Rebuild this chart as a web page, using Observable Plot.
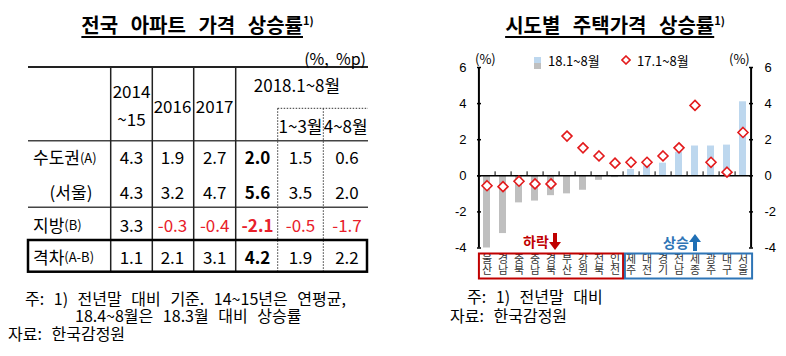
<!DOCTYPE html>
<html><head><meta charset="utf-8">
<script src="https://cdn.jsdelivr.net/npm/d3@7"></script>
<script src="https://cdn.jsdelivr.net/npm/@observablehq/plot@0.6"></script>
<style>
body{margin:0;background:#fff;font-family:"Noto Sans CJK KR","Noto Sans",sans-serif;color:#000}
#root{position:relative;width:786px;height:356px;overflow:hidden}
.abs{position:absolute;white-space:nowrap}
.title{font-size:20px;font-weight:bold;word-spacing:8px;line-height:24px;text-align:center}
.title .u{text-decoration:underline;text-underline-offset:3px;text-decoration-thickness:1.5px}
.title sup{font-size:11px;vertical-align:8px;word-spacing:0;line-height:0}
.note{font-size:16px;line-height:20px;word-spacing:6px}
.leg{font-size:13px;line-height:16px}
.tag{font-size:14px;font-weight:bold;line-height:18px}
.abs svg.blk{display:block}
</style></head>
<body><div id="root"></div>
<script>
// ---------- data ----------
const tableRows = ["수도권", "(서울)", "지방", "격차"];
const rowTags = ["(A)", "", "(B)", "(A-B)"];
const metro = [4.3, 1.9, 2.7, 2.0, 1.5, 0.6];
const seoul = [4.3, 3.2, 4.7, 5.6, 3.5, 2.0];
const provinces = [3.3, -0.3, -0.4, -2.1, -0.5, -1.7];
const gap = [1.1, 2.1, 3.1, 4.2, 1.9, 2.2];

const regions = ["울산","경남","충북","충남","경북","부산","강원","전북","인천","제주","대전","경기","전남","세종","광주","대구","서울"];
const rate2018 = [-4.0, -3.2, -1.5, -1.4, -1.1, -1.0, -0.8, -0.25, -0.1, 0.35, 0.55, 0.7, 1.3, 1.65, 1.65, 1.7, 4.1];
const rate2017 = [-0.55, -0.6, -0.3, -0.45, -0.45, 2.2, 1.55, 1.1, 0.7, 0.75, 0.75, 1.1, 1.55, 3.9, 0.75, 0.2, 2.4];
const yTicks = [-4, -2, 0, 2, 4, 6];

const root = d3.select("#root");
function html(left, top, cls, content, extra) {
  const d = root.append("div").attr("class", "abs " + cls).html(content);
  d.attr("style", `left:${left}px;top:${top}px;` + (extra || ""));
  return d;
}

// ---------- left table ----------
const tsvg = root.append("svg").attr("width", 440).attr("height", 356)
  .style("position", "absolute").style("left", "0px").style("top", "0px")
  .style("font-family", '"Noto Sans CJK KR", "Noto Sans", sans-serif');
const L = 28, R = 368;
const colEdges = [110.7, 152.3, 193.7, 235.7, 277.7, 323.3];
const colCenters = [131.5, 172.5, 214.7, 257.5, 300.5, 347];
const yTop = 67, yDot = 108.3, yHead = 140.7, ySeoul = 207.3, yBoxTop = 240, yBottom = 271.7;
const rowY = [156.7, 191.5, 224, 256];
function line(x1, y1, x2, y2, w, c, dash) {
  const l = tsvg.append("line").attr("x1", x1).attr("y1", y1).attr("x2", x2).attr("y2", y2)
    .attr("stroke", c).attr("stroke-width", w);
  if (dash) l.attr("stroke-dasharray", dash);
}
line(L, yTop, R, yTop, 2, "#222");
line(L, yHead, R, yHead, 1.5, "#444");
line(L, ySeoul, R, ySeoul, 1.5, "#444");
colEdges.slice(0, 4).forEach(x => line(x, yTop, x, yBottom, 1.5, "#222"));
colEdges.slice(4).forEach(x => line(x, yDot, x, yBottom, 1, "#333", "1.5,1.5"));
line(colEdges[4], yDot, R, yDot, 1, "#333", "1.5,1.5");
tsvg.append("rect").attr("x", L).attr("y", yBoxTop).attr("width", R - L - 1).attr("height", yBottom - yBoxTop)
  .attr("fill", "none").attr("stroke", "#000").attr("stroke-width", 2.5);

function ttext(x, y, s, opts = {}) {
  return tsvg.append("text").attr("x", x).attr("y", y).attr("dominant-baseline", "central")
    .attr("text-anchor", opts.anchor || "middle").attr("font-size", opts.size || 17)
    .attr("font-weight", opts.bold ? "bold" : null).attr("fill", opts.fill || "#000")
    .text(s);
}
ttext(colCenters[0], 90, "2014");
ttext(colCenters[0], 118, "~15");
ttext(colCenters[1], 105, "2016");
ttext(colCenters[2], 105, "2017");
ttext(297, 84, "2018.1~8월");
ttext(300.5, 125.7, "1~3월");
ttext(345.7, 125.7, "4~8월");
ttext(R - 2, 58, "(%,\u00a0\u00a0%p)", {anchor: "end", size: 16});

const tableValues = [metro, seoul, provinces, gap];
tableRows.forEach((name, i) => {
  let t;
  if (rowTags[i]) {
    t = ttext(33, rowY[i], name, {anchor: "start"});
    t.append("tspan").attr("font-size", 13).text(rowTags[i]);
  } else {
    t = ttext(71, rowY[i], name);
  }
  tableValues[i].forEach((v, j) => {
    ttext(colCenters[j], rowY[i], v.toFixed(1), {bold: j === 3, fill: v < 0 ? "#e8202a" : "#000"});
  });
});

// titles
html(40, 13, "title", '<span class="u">전국 아파트 가격 상승률</span><sup>1)</sup>', "width:315px;");
html(455, 13, "title", '<span class="u">시도별 주택가격 상승률</span><sup>1)</sup>', "width:320px;");

// left notes
html(25, 288, "note", "주: 1) 전년말 대비 기준. 14~15년은 연평균,");
html(75, 305, "note", "18.4~8월은 18.3월 대비 상승률");
html(8, 323, "note", "자료: 한국감정원");

// ---------- right chart ----------
const data = regions.map((r, i) => ({region: r, v18: rate2018[i], v17: rate2017[i]}));
const W = 346, H = 240, mL = 37, mR = 34, mT = 22, mB = 37.5;
const step = (W - mL - mR) / regions.length;
const labelStyle = {frameAnchor: "bottom", lineAnchor: "middle", fontSize: 11,
  fontFamily: '"Noto Sans CJK KR", sans-serif', fill: "#333"};
const chart = Plot.plot({
  width: W, height: H, marginTop: mT, marginBottom: mB, marginLeft: mL, marginRight: mR,
  x: {domain: regions, paddingInner: 0.55, paddingOuter: 0.275, axis: null},
  y: {domain: [-4, 6], axis: null},
  color: {type: "identity"},
  style: {fontFamily: '"Liberation Sans", Arial, sans-serif', fontSize: "13px", color: "#000", background: "transparent", overflow: "visible"},
  marks: [
    Plot.barY(data, {x: "region", y: "v18", fill: d => d.v18 < 0 ? "#bfbfbf" : "#bdd7ee"}),
    Plot.ruleY([0], {stroke: "#000", strokeWidth: 1.5}),
    Plot.ruleX(regions.slice(0, -1), {y1: 0, y2: 0.22, dx: step / 2, stroke: "#000", strokeWidth: 1}),
    Plot.ruleX([regions[0]], {dx: -step / 2, stroke: "#000", strokeWidth: 2}),
    Plot.ruleX([regions[regions.length - 1]], {dx: step / 2, stroke: "#000", strokeWidth: 2}),
    Plot.axisY(yTicks, {anchor: "left", tickSize: 4, dx: 4, fill: "none", strokeWidth: 1.5, label: null}),
    Plot.axisY(yTicks, {anchor: "left", tickSize: 0, tickPadding: 11, label: null, tickFormat: d => String(d), fontSize: 13}),
    Plot.axisY(yTicks, {anchor: "right", tickSize: 4, dx: -4, fill: "none", strokeWidth: 1.5, label: null}),
    Plot.axisY(yTicks, {anchor: "right", tickSize: 0, tickPadding: 12, label: null, tickFormat: d => String(d), fontSize: 13}),
    Plot.dot(data, {x: "region", y: "v17", symbol: "diamond2", r: 4.5, stroke: "#e31a1c", fill: "#fff", strokeWidth: 1.6}),
    Plot.text(data, {x: "region", text: d => d.region[0], dy: 11.5, ...labelStyle}),
    Plot.text(data, {x: "region", text: d => d.region[1], dy: 22.5, ...labelStyle})
  ]
});
chart.style.position = "absolute";
chart.style.left = "440px";
chart.style.top = "45px";
root.node().appendChild(chart);

// group boxes around category labels, positioned from Plot's x scale
const xs = chart.scale("x");
const cx = r => xs.apply(r) + xs.bandwidth / 2;
const falling = data.filter(d => d.v18 < 0).map(d => d.region);
const rising = data.filter(d => d.v18 >= 0).map(d => d.region);
const csvg = d3.select(chart);
const by0 = H - mB + 6, bh = 25;
csvg.append("rect").attr("x", cx(falling[0]) - step / 2 + 0.5).attr("y", by0)
  .attr("width", cx(falling[falling.length - 1]) - cx(falling[0]) + step).attr("height", bh)
  .attr("fill", "none").attr("stroke", "#c00000").attr("stroke-width", 2);
csvg.append("rect").attr("x", cx(rising[0]) - step / 2 + 2.5).attr("y", by0)
  .attr("width", cx(rising[rising.length - 1]) - cx(rising[0]) + step - 1).attr("height", bh)
  .attr("fill", "none").attr("stroke", "#2e75b6").attr("stroke-width", 2);

// legend & unit labels
html(475, 51, "leg", "(%)");
html(729, 51, "leg", "(%)");
html(534, 57, "", '<div style="width:7px;height:6px;background:#bdd7ee"></div><div style="width:7px;height:6px;background:#bfbfbf"></div>');
html(548, 53, "leg", "18.1~8월");
html(621, 55, "", '<svg class="blk" width="10" height="10"><path d="M5,1 L9,5 L5,9 L1,5 Z" fill="#fff" stroke="#e31a1c" stroke-width="1.6"/></svg>');
html(637, 53, "leg", "17.1~8월");

// 하락 / 상승 tags
html(523, 232, "tag", '<span style="color:#c00000">하락</span><svg width="12" height="17" style="vertical-align:-3px"><path d="M4,0 H8 V9 H12 L6,17 L0,9 H4 Z" fill="#c00000"/></svg>');
html(663, 233, "tag", '<span style="color:#2e75b6">상승</span><svg width="12" height="17" style="vertical-align:-3px"><path d="M6,0 L12,8 H8 V17 H4 V8 H0 Z" fill="#1f6fb5"/></svg>');

// right notes
html(467, 286, "note", "주: 1) 전년말 대비");
html(450, 305, "note", "자료: 한국감정원");
</script>
</body></html>
